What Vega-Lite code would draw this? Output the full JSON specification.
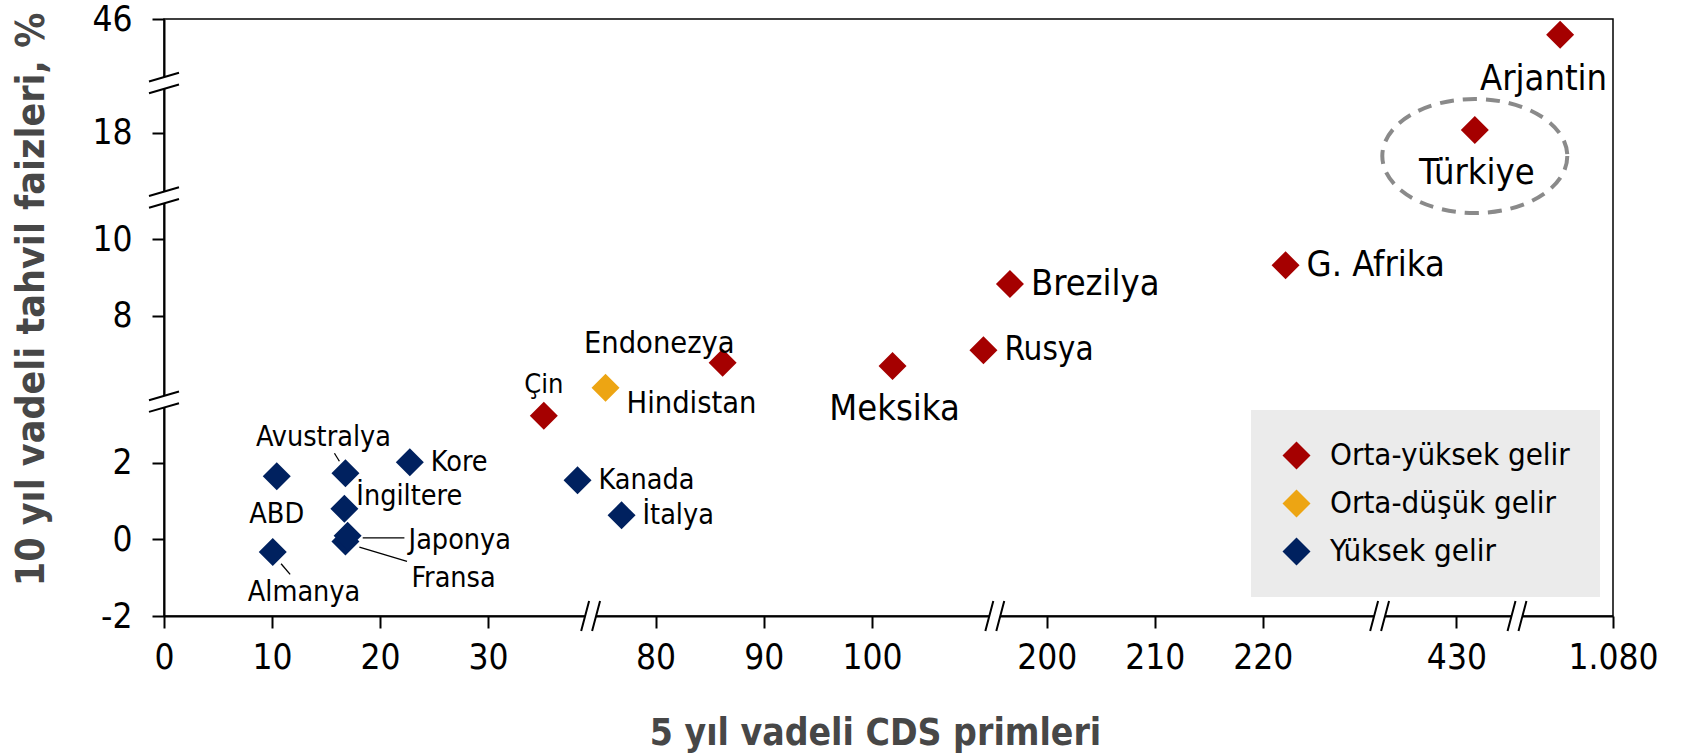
{
  "$schema": "https://vega.github.io/schema/vega-lite/v6.json",
  "width": 1449,
  "height": 597,
  "autosize": {"type": "none"},
  "padding": {"left": 164, "top": 19, "right": 69, "bottom": 137},
  "background": "white",
  "config": {
    "font": "DejaVu Sans Condensed, DejaVu Sans",
    "view": {"stroke": "#000000", "strokeWidth": 1.5},
    "text": {"font": "DejaVu Sans Condensed, DejaVu Sans", "color": "#000000"}
  },
  "datasets": {
    "ulkeler": [
      {"ulke": "ABD", "cds": 10.44, "faiz": 1.65, "grup": "Yüksek gelir"},
      {"ulke": "Almanya", "cds": 10.07, "faiz": -0.33, "grup": "Yüksek gelir"},
      {"ulke": "Avustralya", "cds": 16.8, "faiz": 1.73, "grup": "Yüksek gelir"},
      {"ulke": "İngiltere", "cds": 16.7, "faiz": 0.8, "grup": "Yüksek gelir"},
      {"ulke": "Fransa", "cds": 16.8, "faiz": -0.05, "grup": "Yüksek gelir"},
      {"ulke": "Japonya", "cds": 17.0, "faiz": 0.1, "grup": "Yüksek gelir"},
      {"ulke": "Kore", "cds": 22.76, "faiz": 2.02, "grup": "Yüksek gelir"},
      {"ulke": "Çin", "cds": 35.17, "faiz": 3.23, "grup": "Orta-yüksek gelir"},
      {"ulke": "Kanada", "cds": 38.29, "faiz": 1.55, "grup": "Yüksek gelir"},
      {"ulke": "İtalya", "cds": 76.86, "faiz": 0.63, "grup": "Yüksek gelir"},
      {"ulke": "Hindistan", "cds": 75.38, "faiz": 6.12, "grup": "Orta-düşük gelir"},
      {"ulke": "Endonezya", "cds": 86.2, "faiz": 6.77, "grup": "Orta-yüksek gelir"},
      {"ulke": "Meksika", "cds": 101.9, "faiz": 6.69, "grup": "Orta-yüksek gelir"},
      {"ulke": "Rusya", "cds": 110.3, "faiz": 7.1, "grup": "Orta-yüksek gelir"},
      {"ulke": "Brezilya", "cds": 196.6, "faiz": 8.83, "grup": "Orta-yüksek gelir"},
      {"ulke": "G. Afrika", "cds": 222.1, "faiz": 9.32, "grup": "Orta-yüksek gelir"},
      {"ulke": "Türkiye", "cds": 431.7, "faiz": 18.07, "grup": "Orta-yüksek gelir"},
      {"ulke": "Arjantin", "cds": 1075.1, "faiz": 45.6, "grup": "Orta-yüksek gelir"}
    ],
    "xkirik": [
      {"cds": 50, "faiz": -2},
      {"cds": 150, "faiz": -2},
      {"cds": 300, "faiz": -2},
      {"cds": 700, "faiz": -2}
    ],
    "ykirik": [
      {"cds": 0, "faiz": 4.5},
      {"cds": 0, "faiz": 14},
      {"cds": 0, "faiz": 30}
    ],
    "oklar": [
      {"ulke": "Japonya", "cds": 18.4, "faiz": 0.044, "cds2": 22.26, "faiz2": 0.044},
      {"ulke": "Fransa", "cds": 18.09, "faiz": -0.2, "cds2": 22.5, "faiz2": -0.574},
      {"ulke": "Almanya", "cds": 10.84, "faiz": -0.634, "cds2": 11.68, "faiz2": -0.914},
      {"ulke": "Avustralya", "cds": 15.78, "faiz": 2.253, "cds2": 16.24, "faiz2": 2.044}
    ]
  },
  "data": {"name": "ulkeler"},
  "encoding": {
    "x": {
      "field": "cds",
      "type": "quantitative",
      "title": "5 yıl vadeli CDS primleri",
      "scale": {
        "domain": [0, 39.5, 74, 111.35, 195.2, 230.8, 422.9, 435.6, 1071.1, 1080],
        "range": [0, 426.6, 426.6, 830.8, 830.8, 1215.6, 1215.6, 1353, 1353, 1449],
        "nice": false,
        "zero": false
      },
      "axis": {
        "values": [0, 10, 20, 30, 80, 90, 100, 200, 210, 220, 430, 1080],
        "labelExpr": "datum.value == 1080 ? '1.080' : datum.label",
        "labelFlush": false,
        "labelOverlap": false,
        "grid": false,
        "labelFontSize": 35,
        "labelColor": "#000000",
        "labelPadding": 12,
        "tickSize": 12,
        "tickWidth": 2,
        "tickColor": "#000000",
        "domainColor": "#000000",
        "domainWidth": 2,
        "titleFontSize": 37,
        "titleFontWeight": "bold",
        "titleColor": "#474747",
        "titleX": 711,
        "titleY": 128,
        "titleBaseline": "alphabetic",
        "titleAnchor": "middle"
      }
    },
    "y": {
      "field": "faiz",
      "type": "quantitative",
      "title": "10 yıl vadeli tahvil faizleri, %",
      "scale": {
        "domain": [-2, 3.6, 5.755, 11.09, 16.31, 19.3, 44.34, 46],
        "range": [597, 382.7, 382.7, 178.5, 178.5, 64, 64, 0.3],
        "nice": false,
        "zero": false
      },
      "axis": {
        "values": [-2, 0, 2, 8, 10, 18, 46],
        "labelExpr": "replace(datum.label, '−', '-')",
        "grid": false,
        "labelFontSize": 35,
        "labelColor": "#000000",
        "labelPadding": 20,
        "tickSize": 12,
        "tickWidth": 2,
        "tickColor": "#000000",
        "domainColor": "#000000",
        "domainWidth": 2,
        "titleFontSize": 39,
        "titleFontWeight": "bold",
        "titleColor": "#474747",
        "titleX": -133,
        "titleY": 280,
        "titleAngle": -90,
        "titleBaseline": "middle",
        "titleAnchor": "middle"
      }
    }
  },
  "layer": [
    {
      "data": {"name": "xkirik"},
      "mark": {"type": "point", "shape": "M-0.63,1 L-0.1,-1 L0.63,-1 L0.1,1 Z", "filled": true, "fill": "white", "strokeWidth": 0, "size": 900, "opacity": 1}
    },
    {
      "data": {"name": "xkirik"},
      "mark": {"type": "point", "shape": "M-0.63,1 L-0.1,-1 M0.1,1 L0.63,-1", "filled": false, "stroke": "#000000", "strokeWidth": 2, "size": 900, "opacity": 1}
    },
    {
      "data": {"name": "ykirik"},
      "mark": {"type": "point", "shape": "M-1,-0.1 L1,-0.68 L1,0.1 L-1,0.68 Z", "filled": true, "fill": "white", "strokeWidth": 0, "size": 900, "opacity": 1}
    },
    {
      "data": {"name": "ykirik"},
      "mark": {"type": "point", "shape": "M-1,-0.1 L1,-0.68 M-1,0.68 L1,0.1", "filled": false, "stroke": "#000000", "strokeWidth": 2, "size": 900, "opacity": 1}
    },
    {
      "data": {"name": "oklar"},
      "mark": {"type": "rule", "color": "#000000", "strokeWidth": 1.3},
      "encoding": {
        "x2": {"field": "cds2"},
        "y2": {"field": "faiz2"}
      }
    },
    {
      "transform": [{"filter": {"field": "ulke", "equal": "Türkiye"}}],
      "mark": {
        "type": "point",
        "shape": "M1,0.28 C1,0.6202 0.5523,0.896 0,0.896 C-0.5523,0.896 -1,0.6202 -1,0.28 C-1,-0.0602 -0.5523,-0.336 0,-0.336 C0.5523,-0.336 1,-0.0602 1,0.28 Z",
        "filled": false,
        "stroke": "#8A8A8A",
        "strokeWidth": 4,
        "strokeDash": [14, 9],
        "size": 34225,
        "opacity": 1
      }
    },
    {
      "mark": {"type": "point", "shape": "diamond", "filled": true, "size": 784, "opacity": 1, "strokeWidth": 0},
      "encoding": {
        "color": {
          "field": "grup",
          "type": "nominal",
          "scale": {
            "domain": ["Orta-yüksek gelir", "Orta-düşük gelir", "Yüksek gelir"],
            "range": ["#A50000", "#EDA513", "#00215F"]
          },
          "legend": {
            "title": null,
            "orient": "none",
            "legendX": 1087,
            "legendY": 391,
            "fillColor": "#EBEBEB",
            "padding": 30,
            "symbolType": "diamond",
            "symbolSize": 784,
            "symbolOpacity": 1,
            "symbolStrokeWidth": 0,
            "labelFontSize": 31,
            "labelColor": "#000000",
            "labelOffset": 18,
            "labelLimit": 500,
            "rowPadding": 16
          }
        }
      }
    },
    {
      "transform": [{"filter": {"field": "ulke", "oneOf": ["Kore", "Kanada", "İtalya"]}}],
      "mark": {"type": "text", "align": "left", "baseline": "middle", "dx": 21, "dy": 0, "fontSize": 28.5},
      "encoding": {"text": {"field": "ulke"}}
    },
    {
      "transform": [{"filter": {"field": "ulke", "equal": "Rusya"}}],
      "mark": {"type": "text", "align": "left", "baseline": "middle", "dx": 21, "dy": 0, "fontSize": 33},
      "encoding": {"text": {"field": "ulke"}}
    },
    {
      "transform": [{"filter": {"field": "ulke", "oneOf": ["G. Afrika", "Brezilya"]}}],
      "mark": {"type": "text", "align": "left", "baseline": "middle", "dx": 21, "dy": 0, "fontSize": 36},
      "encoding": {"text": {"field": "ulke"}}
    },
    {
      "transform": [{"filter": {"field": "ulke", "equal": "İngiltere"}}],
      "mark": {"type": "text", "align": "left", "baseline": "middle", "dx": 12, "dy": -13, "fontSize": 28.5},
      "encoding": {"text": {"field": "ulke"}}
    },
    {
      "transform": [{"filter": {"field": "ulke", "equal": "Hindistan"}}],
      "mark": {"type": "text", "align": "left", "baseline": "alphabetic", "dx": 21, "dy": 25, "fontSize": 30.5},
      "encoding": {"text": {"field": "ulke"}}
    },
    {
      "transform": [{"filter": {"field": "ulke", "equal": "Endonezya"}}],
      "mark": {"type": "text", "align": "right", "baseline": "alphabetic", "dx": 12, "dy": -10, "fontSize": 30.5},
      "encoding": {"text": {"field": "ulke"}}
    },
    {
      "transform": [{"filter": {"field": "ulke", "equal": "Çin"}}],
      "mark": {"type": "text", "align": "center", "baseline": "alphabetic", "dx": 0, "dy": -23, "fontSize": 27},
      "encoding": {"text": {"field": "ulke"}}
    },
    {
      "transform": [{"filter": {"field": "ulke", "equal": "Avustralya"}}],
      "mark": {"type": "text", "align": "center", "baseline": "alphabetic", "dx": -22, "dy": -27, "fontSize": 28.5},
      "encoding": {"text": {"field": "ulke"}}
    },
    {
      "transform": [{"filter": {"field": "ulke", "equal": "ABD"}}],
      "mark": {"type": "text", "align": "center", "baseline": "alphabetic", "dx": 0, "dy": 47, "fontSize": 28.5},
      "encoding": {"text": {"field": "ulke"}}
    },
    {
      "transform": [{"filter": {"field": "ulke", "equal": "Almanya"}}],
      "mark": {"type": "text", "align": "left", "baseline": "alphabetic", "dx": -25, "dy": 49, "fontSize": 28.5},
      "encoding": {"text": {"field": "ulke"}}
    },
    {
      "transform": [{"filter": {"field": "ulke", "equal": "Japonya"}}],
      "mark": {"type": "text", "align": "left", "baseline": "alphabetic", "dx": 61, "dy": 13, "fontSize": 28.5},
      "encoding": {"text": {"field": "ulke"}}
    },
    {
      "transform": [{"filter": {"field": "ulke", "equal": "Fransa"}}],
      "mark": {"type": "text", "align": "left", "baseline": "alphabetic", "dx": 66, "dy": 46, "fontSize": 28.5},
      "encoding": {"text": {"field": "ulke"}}
    },
    {
      "transform": [{"filter": {"field": "ulke", "oneOf": ["Meksika", "Türkiye"]}}],
      "mark": {"type": "text", "align": "center", "baseline": "alphabetic", "dx": 2, "dy": 54, "fontSize": 36},
      "encoding": {"text": {"field": "ulke"}}
    },
    {
      "transform": [{"filter": {"field": "ulke", "equal": "Arjantin"}}],
      "mark": {"type": "text", "align": "right", "baseline": "alphabetic", "dx": 47, "dy": 55, "fontSize": 36},
      "encoding": {"text": {"field": "ulke"}}
    }
  ]
}
